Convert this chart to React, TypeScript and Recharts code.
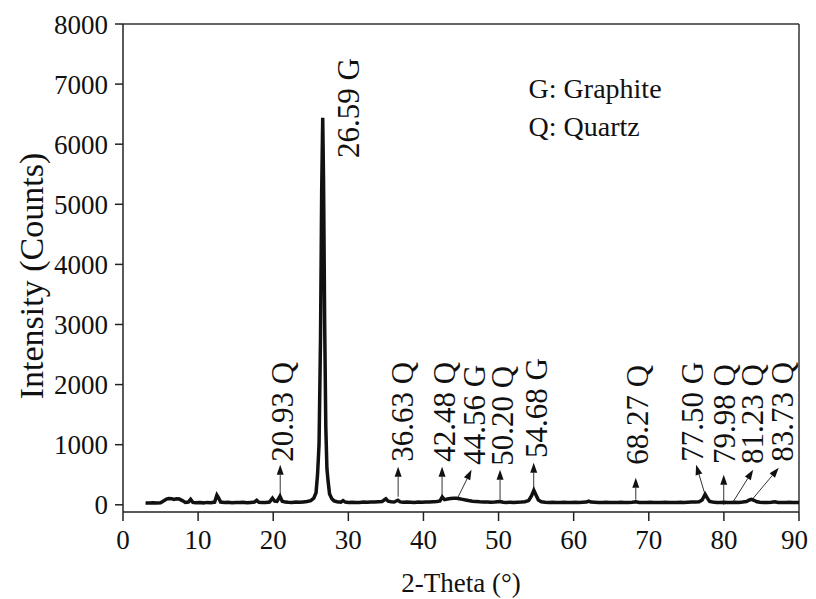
import { Label, Line, LineChart, ReferenceDot, ReferenceLine, XAxis, YAxis } from "recharts"

// 2-theta positions (deg) and intensity (counts)
const twoTheta = [
  3.0, 3.5, 4.0, 4.5, 5.0, 5.5, 5.8, 6.1, 6.5, 6.8,
  7.1, 7.5, 7.9, 8.3, 8.7, 9.0, 9.3, 9.7, 10.2, 10.7,
  11.2, 11.7, 12.2, 12.5, 12.7, 13.0, 13.5, 14.0, 14.5, 15.0,
  15.5, 16.0, 16.5, 17.0, 17.5, 17.8, 18.1, 18.5, 19.0, 19.5,
  19.9, 20.2, 20.5, 20.9, 21.2, 21.6, 22.0, 22.5, 23.0, 23.5,
  24.0, 24.5, 25.0, 25.4, 25.7, 25.9, 26.1, 26.3, 26.45, 26.59,
  26.7, 26.85, 27.0, 27.15, 27.3, 27.5, 27.8, 28.1, 28.5, 29.0,
  29.3, 29.6, 30.0, 30.5, 31.0, 31.5, 32.0, 32.5, 33.0, 33.5,
  34.0, 34.5, 35.0, 35.3, 35.7, 36.1, 36.6, 36.9, 37.3, 37.8,
  38.3, 38.8, 39.3, 39.8, 40.3, 40.8, 41.3, 41.8, 42.2, 42.5,
  42.8, 43.2, 43.6, 44.0, 44.4, 44.8, 45.2, 45.6, 46.0, 46.5,
  47.0, 47.5, 48.0, 48.5, 49.0, 49.5, 50.2, 50.6, 51.0, 51.5,
  52.0, 52.5, 53.0, 53.5, 54.0, 54.4, 54.7, 55.0, 55.3, 55.7,
  56.2, 56.7, 57.2, 57.7, 58.2, 58.7, 59.2, 59.7, 60.2, 60.7,
  61.2, 61.7, 62.0, 62.3, 62.8, 63.3, 63.8, 64.3, 64.8, 65.3,
  65.8, 66.3, 66.8, 67.3, 67.8, 68.3, 68.7, 69.2, 69.7, 70.2,
  70.7, 71.2, 71.7, 72.2, 72.7, 73.2, 73.7, 74.2, 74.7, 75.2,
  75.7, 76.2, 76.7, 77.1, 77.5, 77.8, 78.1, 78.5, 79.0, 79.5,
  80.0, 80.5, 81.0, 81.5, 82.0, 82.5, 83.0, 83.4, 83.7, 84.0,
  84.4, 84.8, 85.3, 85.8, 86.3, 86.8, 87.2, 87.7, 88.2, 88.7,
  89.2, 89.7, 90.0,
]
const intensity = [
  30, 28, 32, 30, 35, 70, 95, 105, 100, 90,
  100, 95, 70, 40, 45, 90, 40, 35, 38, 32,
  40, 35, 45, 160, 120, 45, 38, 42, 35, 40,
  38, 42, 36, 40, 45, 75, 42, 38, 40, 45,
  110, 60, 55, 140, 60, 45, 42, 40, 45, 42,
  48, 55, 70, 110, 200, 500, 1000, 2800, 5200, 6440,
  5400, 3000, 1300, 600, 400, 180, 100, 65, 50, 45,
  70, 45, 40, 42, 38, 40, 45, 42, 48, 45,
  50, 55, 100, 60, 50, 45, 75, 48, 42, 45,
  42, 40, 45, 42, 48, 45, 50, 55, 65, 130,
  85, 95, 105, 110, 108, 100, 90, 80, 70, 60,
  55, 50, 48, 45, 42, 45, 55, 42, 40, 42,
  38, 42, 45, 50, 70, 150, 240, 160, 80, 50,
  42, 40, 42, 38, 40, 42, 38, 40, 42, 40,
  42, 45, 60, 45, 42, 40, 38, 42, 40, 38,
  40, 42, 38, 40, 42, 50, 40, 38, 40, 42,
  38, 40, 38, 42, 40, 38, 40, 42, 40, 42,
  45, 45, 50, 80, 175, 110, 55, 45, 40, 38,
  42, 38, 40, 42, 40, 45, 55, 80, 90, 75,
  50, 42, 40, 38, 42, 50, 40, 38, 40, 42,
  38, 40, 38,
]

const xTicks = [0, 10, 20, 30, 40, 50, 60, 70, 80, 90]
const yTicks = [0, 1000, 2000, 3000, 4000, 5000, 6000, 7000, 8000]

// peak labels: text, where the text sits (x, bottom of text)
const peakLabels = ["20.93 Q", "26.59 G", "36.63 Q", "42.48 Q", "44.56 G", "50.20 Q", "54.68 G", "68.27 Q", "77.50 G", "79.98 Q", "81.23 Q", "83.73 Q"]
const labelX = [21.2, 30.0, 37.1, 42.8, 46.7, 50.45, 55.0, 68.4, 75.8, 80.0, 83.8, 87.7]
const labelY = [715, 5770, 715, 715, 665, 650, 780, 665, 715, 680, 680, 715]

// arrows: base (on the curve) -> tip (below the text)
const arrowBaseX = [20.93, 36.63, 42.48, 44.56, 50.2, 54.68, 68.27, 77.5, 79.98, 81.23, 83.73]
const arrowBaseY = [133, 133, 133, 116, 83, 216, 83, 166, 0, 50, 83]
const arrowTipX = [20.93, 36.63, 42.48, 46.4, 50.2, 54.68, 68.27, 76.3, 79.98, 83.9, 87.3]
const arrowTipY = [665, 632, 632, 582, 582, 699, 449, 665, 499, 582, 615]

const legendLines = ["G: Graphite", "Q: Quartz"]
const legendY = [6769, 6137]

const data = twoTheta.map((x, i) => ({ x, y: intensity[i] }))

const font = "'Liberation Serif', 'Times New Roman', serif"

const arrowShape = (p: any) => {
  const { x1, y1, x2, y2 } = p
  const ang = Math.atan2(y2 - y1, x2 - x1)
  const len = 10
  const half = 3.5
  const bx = x2 - len * Math.cos(ang)
  const by = y2 - len * Math.sin(ang)
  const px = -Math.sin(ang) * half
  const py = Math.cos(ang) * half
  return (
    <g>
      <line x1={x1} y1={y1} x2={bx} y2={by} stroke="#333" strokeWidth={1} />
      <polygon points={`${x2},${y2} ${bx + px},${by + py} ${bx - px},${by - py}`} fill="#111" />
    </g>
  )
}

const rotatedText = (text: string) => (p: any) => (
  <text
    x={p.cx}
    y={p.cy}
    dy="0.35em"
    transform={`rotate(-90 ${p.cx} ${p.cy})`}
    fontFamily={font}
    fontSize={31}
    fill="#111"
  >
    {text}
  </text>
)

const plainText = (text: string) => (p: any) => (
  <text x={p.cx} y={p.cy} fontFamily={font} fontSize={28} fill="#111">
    {text}
  </text>
)

const yTitle = (props: any) => {
  const vb = props.viewBox
  const cx = vb.x + 23
  const cy = vb.y + vb.height / 2 + 8
  return (
    <text
      x={cx}
      y={cy}
      dy="0.35em"
      textAnchor="middle"
      transform={`rotate(-90 ${cx} ${cy})`}
      fontFamily={font}
      fontSize={34}
      fill="#111"
    >
      Intensity (Counts)
    </text>
  )
}

export default function App() {
  return (
    <LineChart width={800} height={590} data={data} margin={{ top: 16, right: 9, bottom: 0, left: 0 }}>
      <XAxis
        dataKey="x"
        type="number"
        domain={[0, 90]}
        ticks={xTicks}
        height={86}
        tickSize={9}
        tickMargin={9}
        stroke="#222"
        strokeWidth={1.5}
        tick={{ fill: "#111", fontSize: 27, fontFamily: font }}
      >
        <Label value="2-Theta (°)" position="insideBottom" offset={6} style={{ fill: "#111", fontSize: 27, fontFamily: font }} />
      </XAxis>
      <YAxis
        type="number"
        domain={[-120, 8000]}
        ticks={yTicks}
        width={115}
        tickSize={8}
        tickMargin={7}
        stroke="#222"
        strokeWidth={1.5}
        tick={{ fill: "#111", fontSize: 27, fontFamily: font }}
      >
        <Label content={yTitle} />
      </YAxis>
      <ReferenceLine y={8000} stroke="#333" strokeWidth={1.5} />
      <ReferenceLine x={90} stroke="#333" strokeWidth={1.5} />
      {arrowBaseX.map((bx, i) => (
        <ReferenceLine
          key={"a" + i}
          segment={[
            { x: bx, y: arrowBaseY[i] },
            { x: arrowTipX[i], y: arrowTipY[i] },
          ]}
          shape={arrowShape}
        />
      ))}
      <Line type="linear" dataKey="y" stroke="#111" strokeWidth={3.5} dot={false} activeDot={false} isAnimationActive={false} />
      {peakLabels.map((t, i) => (
        <ReferenceDot key={"l" + i} x={labelX[i]} y={labelY[i]} r={0} shape={rotatedText(t)} />
      ))}
      {legendLines.map((t, i) => (
        <ReferenceDot key={"g" + i} x={54} y={legendY[i]} r={0} shape={plainText(t)} />
      ))}
    </LineChart>
  )
}
